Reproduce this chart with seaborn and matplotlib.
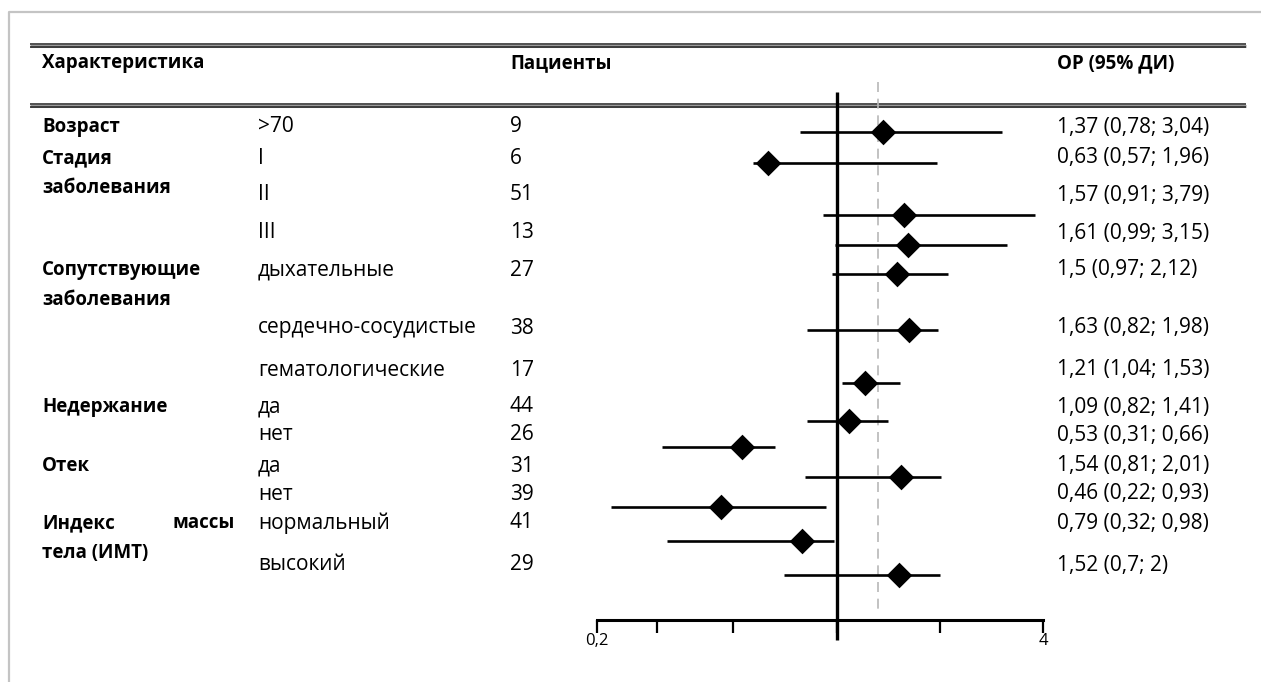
import matplotlib
matplotlib.use("Agg")
import matplotlib.pyplot as plt
import seaborn as sns

# data
group_labels = [["Возраст"], ["Стадия", "заболевания"], ["Сопутствующие", "заболевания"],
                ["Недержание"], ["Отек"], ["Индекс массы", "тела (ИМТ)"]]
group_start = [0, 1, 4, 7, 9, 11]
subgroups = [">70", "I", "II", "III", "дыхательные", "сердечно-сосудистые", "гематологические",
             "да", "нет", "да", "нет", "нормальный", "высокий"]
patients = [9, 6, 51, 13, 27, 38, 17, 44, 26, 31, 39, 41, 29]
or_est = [1.37, 0.63, 1.57, 1.61, 1.5, 1.63, 1.21, 1.09, 0.53, 1.54, 0.46, 0.79, 1.52]
ci_low = [0.78, 0.57, 0.91, 0.99, 0.97, 0.82, 1.04, 0.82, 0.31, 0.81, 0.22, 0.32, 0.7]
ci_high = [3.04, 1.96, 3.79, 3.15, 2.12, 1.98, 1.53, 1.41, 0.66, 2.01, 0.93, 0.98, 2]
overall_or = 1.32
axis_ticks = [0.2, 0.3, 0.5, 1, 2, 4]
axis_ticklabels = ["0,2", "", "", "", "", "4"]
headers = ["Характеристика", "Пациенты", "ОР (95% ДИ)"]

# layout (pixels, figure is 1261x682)
W, H = 1261, 682
text_y = [127, 158, 195, 233, 270, 328, 370, 407, 435, 466, 494, 523, 565]
mark_y = [132, 163, 215, 245, 274, 330, 383, 421, 447, 477, 507, 541, 575]
col_x = [42, 258, 510, 1057]
axis_y = 620

sns.set_style("white")
plt.rcParams["font.family"] = ["Open Sans", "DejaVu Sans"]
plt.rcParams["text.color"] = "black"
FS_B = 13.5
FS = 15


def fmt(v):
    return f"{v:g}".replace(".", ",")


fig = plt.figure(figsize=(W / 100, H / 100), dpi=100)
bg = fig.add_axes([0, 0, 1, 1])
bg.set_xlim(0, W)
bg.set_ylim(H, 0)
bg.axis("off")

# page frame
bg.plot([9, 9, W], [H, 12, 12], color="#c4c4c4", lw=1.6, solid_capstyle="butt")

# double rules
for y0 in (44, 104):
    bg.plot([30, 1246], [y0 + 1.7, y0 + 1.7], color="#9a9a9a", lw=2.2, solid_capstyle="butt")
    bg.plot([30, 1246], [y0, y0], color="#222222", lw=1.1, solid_capstyle="butt")
    bg.plot([30, 1246], [y0 + 3.4, y0 + 3.4], color="#222222", lw=1.1, solid_capstyle="butt")

# headers
for x, h in zip([col_x[0], col_x[2], col_x[3]], headers):
    bg.text(x, 63, h, fontsize=FS_B, fontweight="bold", va="center", ha="left", color="black")

# group labels
for lines, start in zip(group_labels, group_start):
    for i, line in enumerate(lines):
        y = text_y[start] + i * 30
        words = line.split()
        if line.startswith("Индекс"):
            # justified line
            bg.text(col_x[0], y, words[0], fontsize=FS_B, fontweight="bold", va="center", color="black")
            bg.text(235, y, words[1], fontsize=FS_B, fontweight="bold", va="center", ha="right",
                    color="black")
        else:
            bg.text(col_x[0], y, line, fontsize=FS_B, fontweight="bold", va="center", color="black")

# rows
for i in range(len(subgroups)):
    bg.text(col_x[1], text_y[i], subgroups[i], fontsize=FS, va="center", color="black")
    bg.text(col_x[2], text_y[i], str(patients[i]), fontsize=FS, va="center", color="black")
    label = f"{fmt(or_est[i])} ({fmt(ci_low[i])}; {fmt(ci_high[i])})"
    bg.text(col_x[3], text_y[i], label, fontsize=FS, va="center", color="black")

# forest panel
x0, x1 = 597, 1043
ax = fig.add_axes([x0 / W, (H - axis_y) / H, (x1 - x0) / W, axis_y / H])
ax.patch.set_alpha(0)
ax.set_xscale("log")
ax.set_xlim(axis_ticks[0], axis_ticks[-1])
ax.set_ylim(axis_y, 0)

ax.vlines(overall_or, 82, 610, color="#b8b8b8", lw=1.2, linestyles=(0, (6, 4)))
ax.vlines(1, 92, 640, color="black", lw=2.4, clip_on=False, zorder=2)
ax.hlines(mark_y, ci_low, ci_high, color="black", lw=1.9, zorder=2)
sns.scatterplot(x=or_est, y=mark_y, marker="D", s=170, color="black",
                edgecolor="black", linewidth=0, ax=ax, legend=False, zorder=3)

for side in ("top", "right", "left"):
    ax.spines[side].set_visible(False)
ax.spines["bottom"].set_linewidth(2.2)
ax.spines["bottom"].set_color("black")
ax.set_xticks(axis_ticks)
ax.set_xticklabels(axis_ticklabels)
ax.minorticks_off()
ax.tick_params(axis="x", direction="out", length=9.5, width=1.6, color="black",
               labelsize=12, labelcolor="black", pad=0, bottom=True)
ax.set_yticks([])
ax.set_xlabel("")
ax.set_ylabel("")

fig.savefig("out.png", dpi=100)
